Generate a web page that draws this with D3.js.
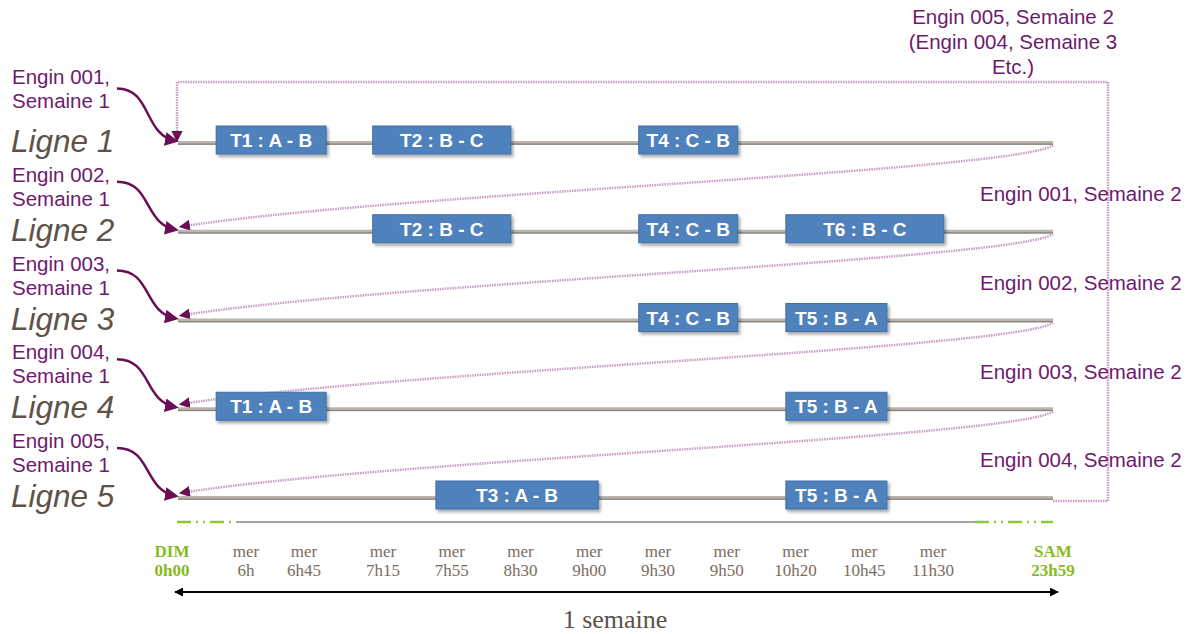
<!DOCTYPE html>
<html><head><meta charset="utf-8">
<script src="https://cdn.jsdelivr.net/npm/d3@7"></script>
<style>body{margin:0;background:#fff}svg{display:block}</style>
</head><body><svg id="c" width="1199" height="634"></svg>
<script>
// ---- data ----
const lines = ["Ligne 1","Ligne 2","Ligne 3","Ligne 4","Ligne 5"];
const enginesWeek1 = ["Engin 001,","Engin 002,","Engin 003,","Engin 004,","Engin 005,"];
const enginesWeek2 = ["Engin 001, Semaine 2","Engin 002, Semaine 2","Engin 003, Semaine 2","Engin 004, Semaine 2"];
const topNote = ["Engin 005, Semaine 2","(Engin 004, Semaine 3","Etc.)"];
const tickDays  = ["DIM","mer","mer","mer","mer","mer","mer","mer","mer","mer","mer","mer","SAM"];
const tickTimes = ["0h00","6h","6h45","7h15","7h55","8h30","9h00","9h30","9h50","10h20","10h45","11h30","23h59"];
// trips: line index, start / end in axis slot units
const tripNames = ["T1 : A - B","T2 : B - C","T4 : C - B",
                   "T2 : B - C","T4 : C - B","T6 : B - C",
                   "T4 : C - B","T5 : B - A",
                   "T1 : A - B","T5 : B - A",
                   "T3 : A - B","T5 : B - A"];
const tripLine  = [0,0,0, 1,1,1, 2,2, 3,3, 4,4];
const tripStart = [0.58,2.87,6.72, 2.87,6.72,8.86, 6.72,8.86, 0.58,8.86, 3.77,8.86];
const tripEnd   = [2.28,4.86,8.16, 4.86,8.16,11.09, 8.16,10.33, 2.28,10.33, 6.13,10.33];

// ---- layout ----
const svg = d3.select("#c");
const x = d3.scaleLinear().domain([0,1,2,3,11,12]).range([175,246,304,383,933,1053]);
const y = d3.scalePoint().domain(d3.range(lines.length)).range([143,498]);
const purple = "#6e1a6e", dotCol = "#c99cc2", arrowCol = "#6a0f55";
const sans = "Liberation Sans, Arial, sans-serif", serif = "Liberation Serif, Times New Roman, serif";

const defs = svg.append("defs");
defs.append("marker").attr("id","ah").attr("viewBox","0 0 10 10").attr("refX",8).attr("refY",5)
  .attr("markerWidth",5.5).attr("markerHeight",5.5).attr("orient","auto")
  .append("path").attr("d","M0,0L10,5L0,10z").attr("fill",arrowCol);
defs.append("marker").attr("id","ah2").attr("viewBox","0 0 10 10").attr("refX",8).attr("refY",5)
  .attr("markerWidth",4.5).attr("markerHeight",4.5).attr("orient","auto")
  .append("path").attr("d","M0,0L10,5L0,10z").attr("fill",arrowCol);
defs.append("marker").attr("id","ahk").attr("viewBox","0 0 10 10").attr("refX",9).attr("refY",5)
  .attr("markerWidth",5).attr("markerHeight",5).attr("orient","auto-start-reverse")
  .append("path").attr("d","M0,0L10,5L0,10z").attr("fill","#000");
const sh = defs.append("filter").attr("id","sh").attr("x","-10%").attr("y","-20%").attr("width","130%").attr("height","160%");
sh.append("feDropShadow").attr("dx",2).attr("dy",2.5).attr("stdDeviation",1.5).attr("flood-color","#000").attr("flood-opacity",0.35);

// big loop (line 5 end back to line 1 start)
const yl = y(lines.length-1), y0 = y(0);
svg.append("path")
  .attr("d",`M${x(12)},${yl+3}H1108V82H${x(0)+2}V${y0-3}`)
  .attr("fill","none").attr("stroke",dotCol).attr("stroke-width",2.5).attr("stroke-dasharray","1.5,1")
  .attr("marker-end","url(#ah2)");

// connection curves from end of line i to start of line i+1
d3.range(lines.length-1).forEach(i=>{
  const ya = y(i), yb = y(i+1);
  svg.append("path")
    .attr("d",`M${x(12)},${ya+2}C${x(12)-30},${ya+28} ${x(3)},${yb-38} ${x(0)+6},${yb-5}`)
    .attr("fill","none").attr("stroke",dotCol).attr("stroke-width",2.5).attr("stroke-dasharray","1.5,1")
    .attr("marker-end","url(#ah2)");
});

// main lines
lines.forEach((l,i)=>{
  svg.append("line").attr("x1",x(0)+3).attr("x2",x(12)).attr("y1",y(i)).attr("y2",y(i))
    .attr("stroke","#bab5af").attr("stroke-width",4);
  svg.append("line").attr("x1",x(0)+3).attr("x2",x(12)).attr("y1",y(i)+1.2).attr("y2",y(i)+1.2)
    .attr("stroke","#8a847f").attr("stroke-width",1.3);
});

// trips
tripNames.forEach((t,k)=>{
  const cy = y(tripLine[k]);
  const x0 = x(tripStart[k]), x1 = x(tripEnd[k]);
  svg.append("rect").attr("x",x0).attr("y",cy-17).attr("width",x1-x0).attr("height",28)
    .attr("fill","#4f81bd").attr("stroke","#3f6fa8").attr("stroke-width",1).attr("filter","url(#sh)");
  svg.append("text").attr("x",(x0+x1)/2).attr("y",cy+4).attr("text-anchor","middle")
    .attr("font-family",sans).attr("font-weight","bold")
    .attr("font-size",19).attr("fill","#fff").text(t);
});

// left labels
lines.forEach((l,i)=>{
  const cy = y(i), off = i===0 ? -9 : 0;
  svg.append("text").attr("x",11).attr("y",cy+9).attr("font-family",sans)
    .attr("font-style","italic").attr("font-size",31.5).attr("fill","#5e5249").text(l);
  svg.append("text").attr("x",12).attr("y",cy-50+off).attr("font-family",sans)
    .attr("font-size",20.5).attr("fill",purple).text(enginesWeek1[i]);
  svg.append("text").attr("x",12).attr("y",cy-26+off).attr("font-family",sans)
    .attr("font-size",20.5).attr("fill",purple).text("Semaine 1");
  svg.append("path")
    .attr("d",`M117,${cy-50+off*0.5}C152,${cy-50+off*0.5} 143,${cy-8} ${x(0)+1},${cy-2}`)
    .attr("fill","none").attr("stroke",arrowCol).attr("stroke-width",2.5).attr("marker-end","url(#ah)");
});

// right labels (week 2)
enginesWeek2.forEach((e,i)=>{
  svg.append("text").attr("x",980).attr("y",y(i)+58).attr("font-family",sans)
    .attr("font-size",20.5).attr("fill",purple).text(e);
});
topNote.forEach((t,i)=>{
  svg.append("text").attr("x",1013).attr("y",24+i*25).attr("text-anchor","middle")
    .attr("font-family",sans).attr("font-size",20.5).attr("fill",purple).text(t);
});

// bottom axis
const yax = 522;
svg.append("line").attr("x1",236).attr("x2",975).attr("y1",yax).attr("y2",yax).attr("stroke","#aaa49f").attr("stroke-width",2.2);
[[x(0)+2,236],[975,x(12)]].forEach(([a,b])=>{
  svg.append("line").attr("x1",a).attr("x2",b).attr("y1",yax).attr("y2",yax)
    .attr("stroke","#8dc63f").attr("stroke-width",2.5).attr("stroke-dasharray","14,5,2,5,2,5");
});
tickDays.forEach((d,i)=>{
  const end = i===0 || i===tickDays.length-1;
  const g = svg.append("g").attr("font-family",serif)
    .attr("font-size",17).attr("text-anchor","middle")
    .attr("fill", end ? "#86bb1f" : "#7a6c60").attr("font-weight", end ? "bold" : "normal");
  const xx = i===0 ? x(i)-3 : x(i);
  g.append("text").attr("x",xx).attr("y",557).text(d);
  g.append("text").attr("x",xx).attr("y",576).text(tickTimes[i]);
});
svg.append("line").attr("x1",x(0)).attr("x2",x(12)+5).attr("y1",592).attr("y2",592)
  .attr("stroke","#000").attr("stroke-width",1.8).attr("marker-start","url(#ahk)").attr("marker-end","url(#ahk)");
svg.append("text").attr("x",615).attr("y",628).attr("text-anchor","middle")
  .attr("font-family",serif).attr("font-size",26).attr("fill","#5a504a").text("1 semaine");
</script></body></html>
